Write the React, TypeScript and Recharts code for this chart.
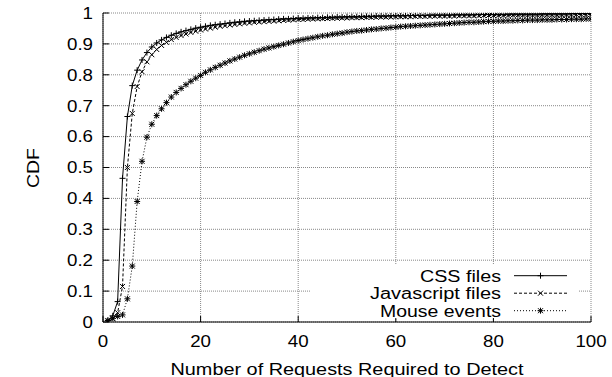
import React from 'react';
import { LineChart, Line, XAxis, YAxis, CartesianGrid } from 'recharts';

const cssFiles = [
  0.005, 0.02, 0.066, 0.465, 0.665, 0.765, 0.815, 0.848, 0.872, 0.89,
  0.903, 0.913, 0.921, 0.928, 0.934, 0.939, 0.943, 0.947, 0.951, 0.954,
  0.957, 0.96, 0.962, 0.964, 0.966, 0.968, 0.97, 0.971, 0.973, 0.974,
  0.975, 0.976, 0.977, 0.978, 0.979, 0.98, 0.981, 0.981, 0.982, 0.983,
  0.983, 0.984, 0.984, 0.985, 0.985, 0.986, 0.986, 0.987, 0.987, 0.988,
  0.988, 0.988, 0.989, 0.989, 0.989, 0.99, 0.99, 0.99, 0.991, 0.991,
  0.991, 0.991, 0.992, 0.992, 0.992, 0.992, 0.993, 0.993, 0.993, 0.993,
  0.993, 0.994, 0.994, 0.994, 0.994, 0.994, 0.995, 0.995, 0.995, 0.995,
  0.995, 0.995, 0.996, 0.996, 0.996, 0.996, 0.996, 0.996, 0.996, 0.997,
  0.997, 0.997, 0.997, 0.997, 0.997, 0.998, 0.998, 0.998, 0.998, 0.998,
];

const jsFiles = [
  0.003, 0.01, 0.03, 0.115, 0.5, 0.675, 0.762, 0.81, 0.842, 0.865,
  0.882, 0.895, 0.905, 0.914, 0.921, 0.927, 0.932, 0.937, 0.941, 0.945,
  0.948, 0.951, 0.954, 0.957, 0.959, 0.961, 0.963, 0.965, 0.967, 0.968,
  0.97, 0.971, 0.972, 0.973, 0.974, 0.975, 0.976, 0.977, 0.978, 0.979,
  0.979, 0.98, 0.981, 0.981, 0.982, 0.982, 0.983, 0.983, 0.984, 0.984,
  0.985, 0.985, 0.985, 0.986, 0.986, 0.986, 0.987, 0.987, 0.987, 0.988,
  0.988, 0.988, 0.988, 0.989, 0.989, 0.989, 0.989, 0.99, 0.99, 0.99,
  0.99, 0.99, 0.991, 0.991, 0.991, 0.991, 0.991, 0.992, 0.992, 0.992,
  0.992, 0.992, 0.992, 0.993, 0.993, 0.993, 0.993, 0.993, 0.993, 0.994,
  0.994, 0.994, 0.994, 0.994, 0.994, 0.994, 0.995, 0.995, 0.995, 0.995,
];

const mouseEvents = [
  0.005, 0.012, 0.018, 0.023, 0.075, 0.181, 0.39, 0.52, 0.598, 0.64,
  0.668, 0.69, 0.71, 0.728, 0.743, 0.756, 0.768, 0.779, 0.789, 0.798,
  0.808, 0.816, 0.824, 0.831, 0.838, 0.845, 0.851, 0.857, 0.863, 0.868,
  0.873, 0.878, 0.883, 0.887, 0.891, 0.895, 0.899, 0.903, 0.907, 0.911,
  0.914, 0.917, 0.92, 0.923, 0.926, 0.928, 0.931, 0.933, 0.935, 0.938,
  0.94, 0.942, 0.943, 0.945, 0.947, 0.948, 0.95, 0.951, 0.953, 0.954,
  0.956, 0.957, 0.958, 0.959, 0.96, 0.961, 0.962, 0.963, 0.964, 0.965,
  0.966, 0.967, 0.968, 0.969, 0.97, 0.97, 0.971, 0.972, 0.973, 0.973,
  0.974, 0.974, 0.975, 0.975, 0.976, 0.976, 0.977, 0.977, 0.977, 0.978,
  0.978, 0.978, 0.979, 0.979, 0.979, 0.98, 0.98, 0.98, 0.981, 0.981,
];

const xTicks = [0, 20, 40, 60, 80, 100];
const yTicks = [0, 0.1, 0.2, 0.3, 0.4, 0.5, 0.6, 0.7, 0.8, 0.9, 1];
const seriesNames = ['CSS files', 'Javascript files', 'Mouse events'];
const xLabel = 'Number of Requests Required to Detect';
const yLabel = 'CDF';

const data = cssFiles.map((v, i) => ({
  x: i + 1,
  css: v,
  js: jsFiles[i],
  mouse: mouseEvents[i],
}));

const FONT = '"Liberation Sans", Arial, Helvetica, sans-serif';

const plusPath = (cx: number, cy: number) =>
  `M${cx - 3},${cy}H${cx + 3}M${cx},${cy - 3}V${cy + 3}`;
const crossPath = (cx: number, cy: number) =>
  `M${cx - 2.5},${cy - 2.5}L${cx + 2.5},${cy + 2.5}M${cx - 2.5},${cy + 2.5}L${cx + 2.5},${cy - 2.5}`;

const PlusMark = ({ cx, cy }: any) => (
  <path d={plusPath(cx, cy)} stroke="#000" strokeWidth={1} fill="none" />
);
const CrossMark = ({ cx, cy }: any) => (
  <path d={crossPath(cx, cy)} stroke="#000" strokeWidth={1} fill="none" />
);
const StarMark = ({ cx, cy }: any) => (
  <path d={plusPath(cx, cy) + crossPath(cx, cy)} stroke="#000" strokeWidth={1} fill="none" />
);

const XTick = (p: any) => (
  <text
    x={0}
    y={0}
    transform={`translate(${p.x},${p.y}) scale(1.17,1)`}
    textAnchor="middle"
    fontFamily={FONT}
    fontSize={16}
    fill="#000"
  >
    {p.payload.value}
  </text>
);

const YTick = (p: any) => (
  <text
    x={0}
    y={0}
    transform={`translate(${p.x},${p.y + 5.8}) scale(1.17,1)`}
    textAnchor="end"
    fontFamily={FONT}
    fontSize={16}
    fill="#000"
  >
    {p.payload.value}
  </text>
);

const legendRows = [
  { name: seriesNames[0], dash: undefined, Mark: PlusMark, len: 81 },
  { name: seriesNames[1], dash: '3 2', Mark: CrossMark, len: 131 },
  { name: seriesNames[2], dash: '1 2', Mark: StarMark, len: 121 },
];

export default function App() {
  return (
    <div style={{ position: 'absolute', left: 0, top: 0, width: 612, height: 377, background: '#fff' }}>
      <LineChart
        width={612}
        height={377}
        data={data}
        margin={{ top: 13, right: 21, bottom: 25, left: 63 }}
      >
        <CartesianGrid
          stroke="#888"
          strokeDasharray="1 1"
          horizontalValues={yTicks}
          verticalValues={xTicks}
        />
        <XAxis
          dataKey="x"
          type="number"
          domain={[0, 100]}
          ticks={xTicks}
          interval={0}
          allowDataOverflow
          height={30}
          tickSize={-6}
          tickMargin={31}
          axisLine={{ stroke: '#000', strokeWidth: 1 }}
          tickLine={{ stroke: '#000', strokeWidth: 1 }}
          tick={<XTick />}
        />
        <XAxis
          xAxisId="top"
          orientation="top"
          type="number"
          domain={[0, 100]}
          ticks={xTicks}
          interval={0}
          allowDataOverflow
          height={0}
          tickSize={-6}
          axisLine={{ stroke: '#000', strokeWidth: 1 }}
          tickLine={{ stroke: '#000', strokeWidth: 1 }}
          tick={false}
        />
        <YAxis
          type="number"
          domain={[0, 1]}
          ticks={yTicks}
          interval={0}
          allowDataOverflow
          width={40}
          tickSize={-6}
          tickMargin={16}
          axisLine={{ stroke: '#000', strokeWidth: 1 }}
          tickLine={{ stroke: '#000', strokeWidth: 1 }}
          tick={<YTick />}
        />
        <YAxis
          yAxisId="right"
          orientation="right"
          type="number"
          domain={[0, 1]}
          ticks={yTicks}
          interval={0}
          allowDataOverflow
          width={0}
          tickSize={-6}
          axisLine={{ stroke: '#000', strokeWidth: 1 }}
          tickLine={{ stroke: '#000', strokeWidth: 1 }}
          tick={false}
        />
        <Line
          dataKey="css"
          name={seriesNames[0]}
          type="linear"
          stroke="#000"
          strokeWidth={1}
          dot={(p: any) => <PlusMark key={`c${p.index}`} cx={p.cx} cy={p.cy} />}
          activeDot={false}
          isAnimationActive={false}
        />
        <Line
          dataKey="js"
          name={seriesNames[1]}
          type="linear"
          stroke="#000"
          strokeWidth={1}
          strokeDasharray="3 2"
          dot={(p: any) => <CrossMark key={`j${p.index}`} cx={p.cx} cy={p.cy} />}
          activeDot={false}
          isAnimationActive={false}
        />
        <Line
          dataKey="mouse"
          name={seriesNames[2]}
          type="linear"
          stroke="#000"
          strokeWidth={1}
          strokeDasharray="1 2"
          dot={(p: any) => <StarMark key={`m${p.index}`} cx={p.cx} cy={p.cy} />}
          activeDot={false}
          isAnimationActive={false}
        />
      </LineChart>
      <svg
        width={612}
        height={377}
        style={{ position: 'absolute', left: 0, top: 0, pointerEvents: 'none' }}
      >
        <rect x={310} y={265} width={268} height={53} fill="#fff" />
        {legendRows.map((r, i) => {
          const base = 281.7 + i * 17.5;
          const ly = base - 6;
          return (
            <g key={r.name}>
              <text
                x={501}
                y={base}
                textAnchor="end"
                fontFamily={FONT}
                fontSize={16}
                textLength={r.len}
                lengthAdjust="spacingAndGlyphs"
                fill="#000"
              >
                {r.name}
              </text>
              <line x1={514} x2={567} y1={ly} y2={ly} stroke="#000" strokeWidth={1} strokeDasharray={r.dash} />
              <r.Mark cx={540.5} cy={ly} />
            </g>
          );
        })}
        <text
          x={347}
          y={375}
          textAnchor="middle"
          fontFamily={FONT}
          fontSize={16}
          textLength={353}
          lengthAdjust="spacingAndGlyphs"
          fill="#000"
        >
          {xLabel}
        </text>
        <text
          x={0}
          y={0}
          transform="translate(39,168) rotate(-90)"
          textAnchor="middle"
          fontFamily={FONT}
          fontSize={16}
          textLength={40}
          lengthAdjust="spacingAndGlyphs"
          fill="#000"
        >
          {yLabel}
        </text>
      </svg>
    </div>
  );
}
